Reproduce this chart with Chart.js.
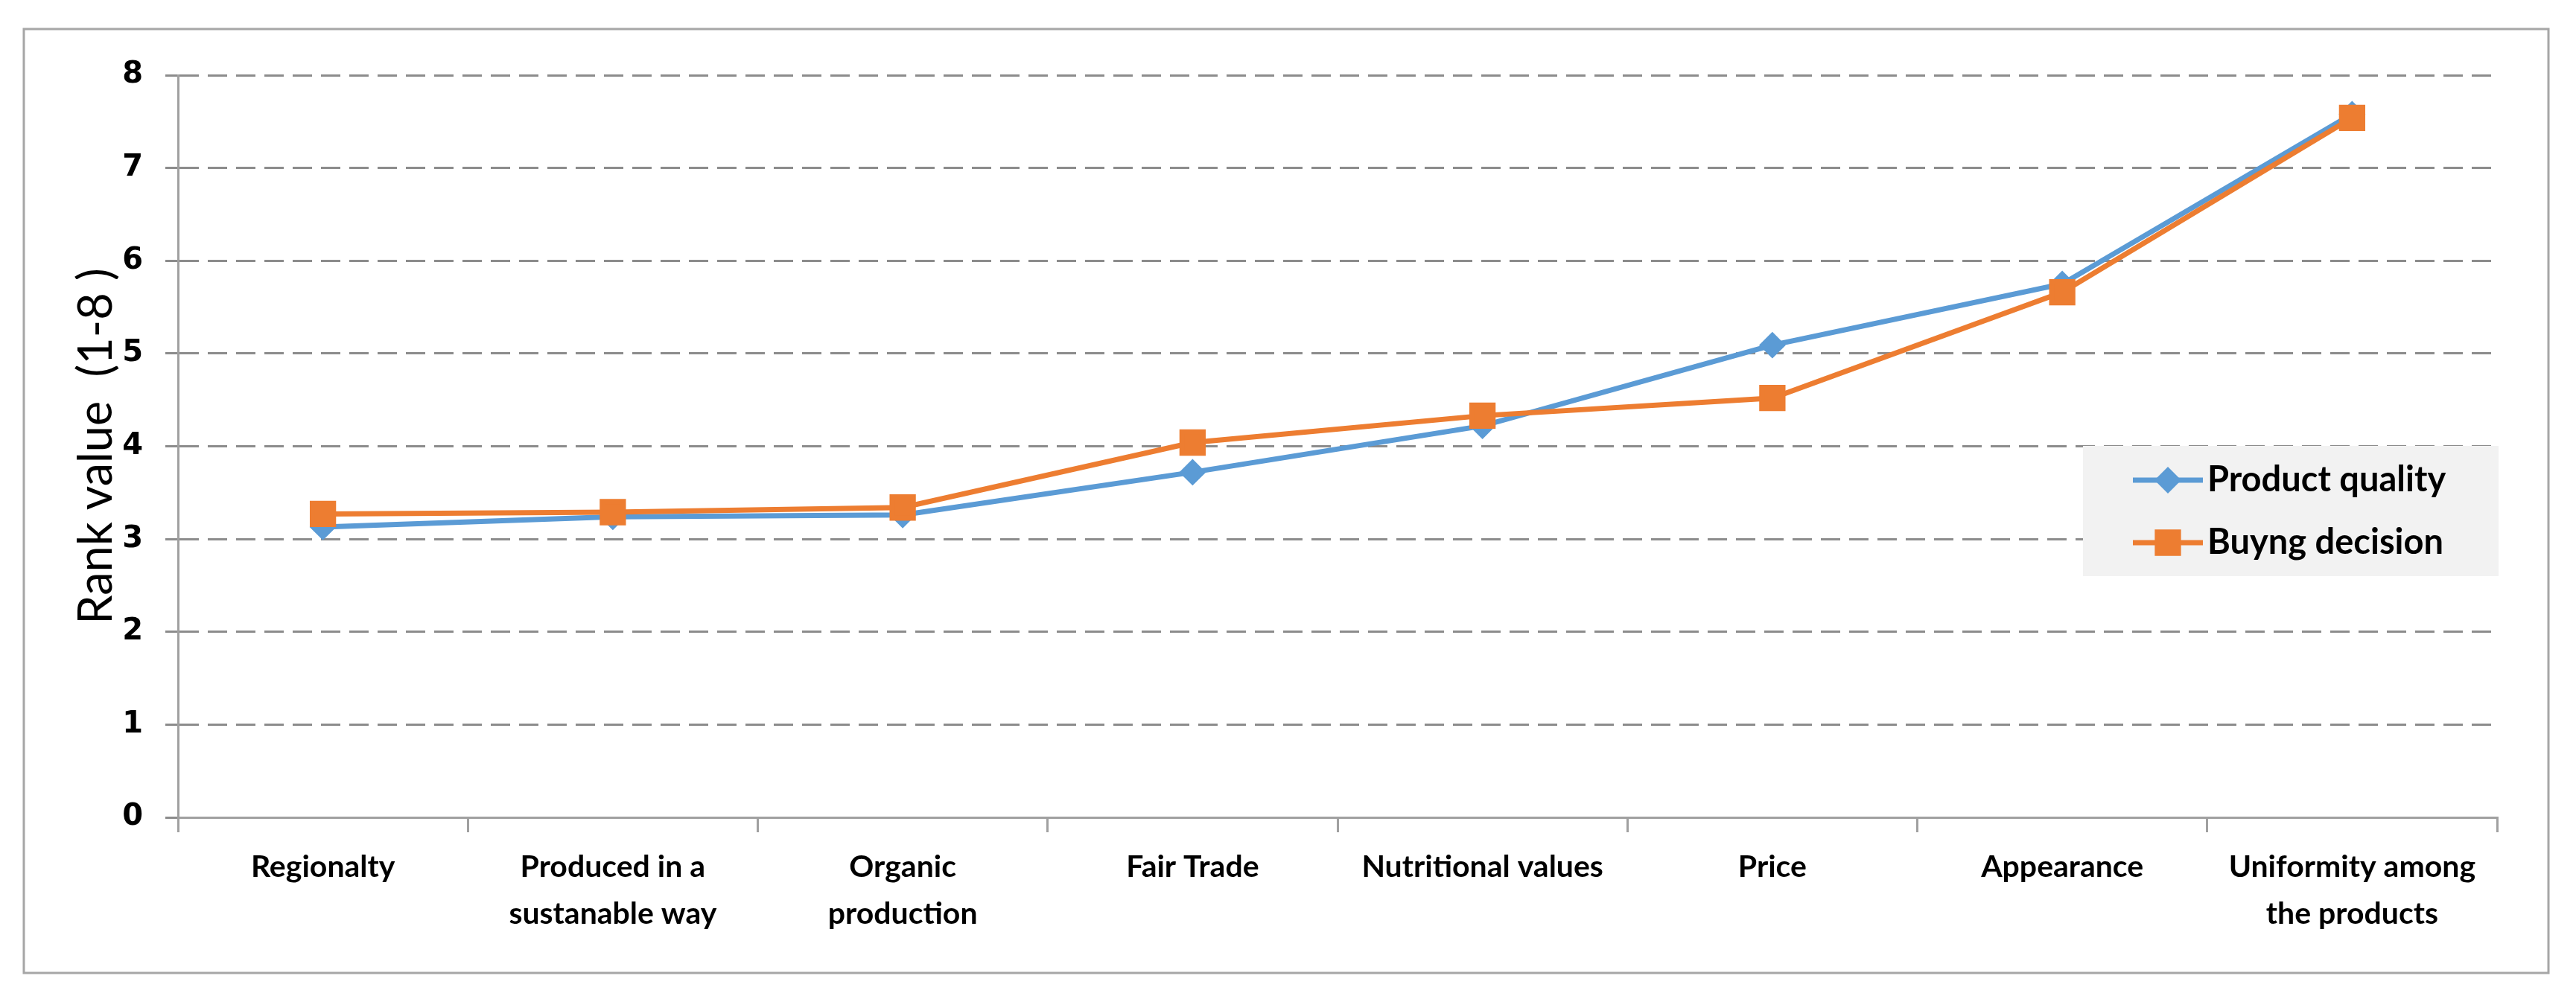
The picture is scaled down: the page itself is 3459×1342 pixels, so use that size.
<!DOCTYPE html>
<html>
<head>
<meta charset="utf-8">
<script src="https://cdn.jsdelivr.net/npm/chart.js@4.4.1/dist/chart.umd.min.js"></script>
<style>
    html, body { margin: 0; padding: 0; background: #ffffff; }
    #wrap { width: 3459px; height: 1342px; position: relative; }
</style>
</head>
<body>
<div id="wrap"><canvas id="rankChart"></canvas></div>
<script>
// values
const categories = [
    'Regionalty',
    ['Produced in a', 'sustanable way'],
    ['Organic', 'production'],
    'Fair Trade',
    'Nutritional values',
    'Price',
    'Appearance',
    ['Uniformity among', 'the products']
];
const productQuality = [3.13, 3.24, 3.26, 3.72, 4.22, 5.09, 5.75, 7.58];
const buyingDecision = [3.27, 3.29, 3.34, 4.04, 4.33, 4.52, 5.66, 7.54];
const yTicks = [0, 1, 2, 3, 4, 5, 6, 7, 8];

const BLUE = '#5b9bd5';
const ORANGE = '#ed7d31';

// white page with the grey frame round the whole chart
const framePlugin = {
    id: 'frame',
    beforeDraw(chart) {
        const ctx = chart.ctx;
        ctx.save();
        ctx.fillStyle = '#ffffff';
        ctx.fillRect(0, 0, chart.width, chart.height);
        ctx.strokeStyle = '#a6a6a6';
        ctx.lineWidth = 3;
        ctx.strokeRect(32, 39, 3390, 1268);
        ctx.restore();
    }
};

// legend box sitting inside the plot, like the Excel original
const boxLegendPlugin = {
    id: 'boxLegend',
    afterDraw(chart) {
        const ctx = chart.ctx;
        const x0 = 2797, y0 = 599, w = 558, h = 175;
        ctx.save();
        ctx.fillStyle = '#f2f2f2';
        ctx.fillRect(x0, y0, w, h);
        chart.data.datasets.forEach((ds, i) => {
            const cy = 645 + i * 84;
            ctx.strokeStyle = ds.borderColor;
            ctx.lineWidth = ds.borderWidth;
            ctx.beginPath();
            ctx.moveTo(2864, cy);
            ctx.lineTo(2958, cy);
            ctx.stroke();
            Chart.helpers.drawPoint(ctx, {
                pointStyle: ds.pointStyle,
                radius: ds.pointRadius,
                rotation: 0,
                borderWidth: 1
            }, 2911, cy);
            ctx.fillStyle = ds.borderColor;
            ctx.fill();
            ctx.fillStyle = '#000000';
            ctx.font = 'bold 47px Lato';
            ctx.textBaseline = 'middle';
            ctx.textAlign = 'left';
            ctx.fillText(ds.label, 2964, cy);
        });
        ctx.restore();
    }
};

const ctx = document.getElementById('rankChart').getContext('2d');
new Chart(ctx, {
    type: 'line',
    data: {
        labels: categories,
        datasets: [{
            label: 'Product quality',
            data: productQuality,
            borderColor: BLUE,
            backgroundColor: BLUE,
            borderWidth: 7,
            pointStyle: 'rectRot',
            pointRadius: 13,
            pointBorderColor: BLUE,
            pointBackgroundColor: BLUE,
            tension: 0,
            order: 1
        }, {
            label: 'Buyng decision',
            data: buyingDecision,
            borderColor: ORANGE,
            backgroundColor: ORANGE,
            borderWidth: 7,
            pointStyle: 'rect',
            pointRadius: 20,
            pointBorderColor: ORANGE,
            pointBackgroundColor: ORANGE,
            tension: 0,
            order: 0
        }]
    },
    options: {
        responsive: true,
        maintainAspectRatio: false,
        animation: false,
        devicePixelRatio: 1,
        layout: {
            padding: { left: 0, right: 106, top: 101, bottom: 0 }
        },
        plugins: {
            legend: { display: false },
            tooltip: { enabled: false }
        },
        scales: {
            x: {
                offset: true,
                grid: {
                    offset: true,
                    drawOnChartArea: false,
                    color: '#a0a0a0',
                    lineWidth: 3,
                    tickLength: 20
                },
                border: { color: '#a0a0a0', width: 3 },
                ticks: {
                    color: '#000000',
                    font: { family: 'Lato', weight: 'bold', size: 41, lineHeight: 1.52 },
                    padding: 16,
                    maxRotation: 0,
                    autoSkip: false
                },
                afterFit(scale) {
                    scale.height = 244;
                }
            },
            y: {
                min: 0,
                max: 8,
                afterBuildTicks(scale) {
                    scale.ticks = yTicks.map(v => ({ value: v }));
                },
                grid: {
                    color: '#8c8c8c',
                    lineWidth: 3,
                    tickLength: 17,
                    tickColor: '#8c8c8c'
                },
                border: { color: '#a0a0a0', width: 3, dash: [26, 12] },
                ticks: {
                    color: '#000000',
                    font: { family: 'DejaVu Sans', weight: 'bold', size: 40 },
                    padding: 30
                },
                title: {
                    display: true,
                    text: 'Rank value  (1-8 )',
                    color: '#000000',
                    font: { family: 'Lato', size: 63, lineHeight: 1.2 },
                    padding: { top: 92, bottom: 0 }
                },
                afterFit(scale) {
                    scale.width = 239;
                }
            }
        }
    },
    plugins: [framePlugin, boxLegendPlugin]
});
</script>
</body>
</html>
